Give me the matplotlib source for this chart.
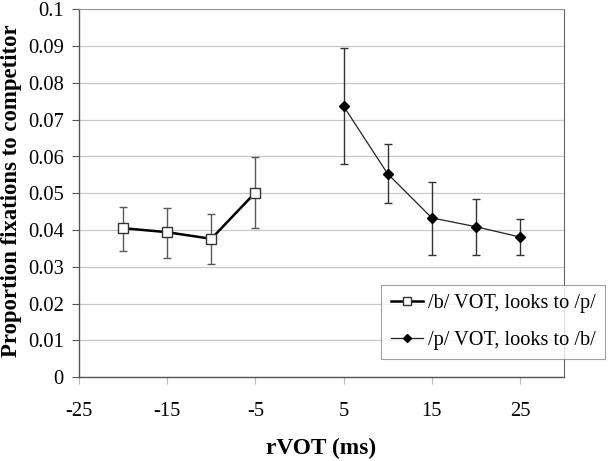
import matplotlib
matplotlib.use("Agg")
import matplotlib.pyplot as plt

# Data
b_x = [-20, -15, -10, -5]
b_y = [0.0405, 0.0394, 0.0376, 0.0502]
b_lo = [0.0344, 0.0325, 0.0307, 0.0406]
b_hi = [0.0463, 0.0459, 0.0444, 0.0598]

p_x = [5, 10, 15, 20, 25]
p_y = [0.0737, 0.0553, 0.0433, 0.0409, 0.0381]
p_lo = [0.0579, 0.0473, 0.0331, 0.0331, 0.0331]
p_hi = [0.0894, 0.0633, 0.0530, 0.0484, 0.0430]

x_ticks = [-25, -15, -5, 5, 15, 25]
y_ticks = [0, 0.01, 0.02, 0.03, 0.04, 0.05, 0.06, 0.07, 0.08, 0.09, 0.1]
y_ticklabels = ["0", "0.01", "0.02", "0.03", "0.04", "0.05", "0.06", "0.07", "0.08", "0.09", "0.1"]

plt.rcParams['font.family'] = ['Liberation Serif', 'DejaVu Serif']

fig = plt.figure(figsize=(6.1, 4.61), dpi=100)
ax = fig.add_axes([79/610, 1 - 377/461, (564-79)/610, (377-9.5)/461])

err_b = [[y - l for y, l in zip(b_y, b_lo)], [h - y for y, h in zip(b_y, b_hi)]]
err_p = [[y - l for y, l in zip(p_y, p_lo)], [h - y for y, h in zip(p_y, p_hi)]]

ax.errorbar(b_x, b_y, yerr=err_b, fmt='none', ecolor='#5a5a5a', elinewidth=1.0,
            capsize=2.7, capthick=1.0, zorder=3)
ax.errorbar(p_x, p_y, yerr=err_p, fmt='none', ecolor='#333333', elinewidth=1.0,
            capsize=2.7, capthick=1.0, zorder=3)
ax.plot(b_x, b_y, color='black', lw=1.8, marker='s', markersize=7.5,
        markerfacecolor='white', markeredgecolor='#333333', markeredgewidth=1.0,
        label='/b/ VOT, looks to /p/', zorder=4)
ax.plot(p_x, p_y, color='#222222', lw=0.9, marker='D', markersize=5,
        markerfacecolor='black', markeredgecolor='black',
        label='/p/ VOT, looks to /b/', zorder=4)

ax.set_xlim(-25, 30)
ax.set_ylim(0, 0.1)
ax.set_xticks(x_ticks)
ax.set_xticklabels([str(v) for v in x_ticks])
ax.set_yticks(y_ticks)
ax.set_yticklabels(y_ticklabels)
ax.yaxis.grid(True, color='#c8c8c8', lw=0.9)
ax.set_axisbelow(True)

for s in ['left', 'bottom']:
    ax.spines[s].set_color('#555555')
    ax.spines[s].set_linewidth(1.0)
ax.spines['right'].set_color('#666666')
ax.spines['top'].set_color('#999999')

ax.tick_params(axis='y', direction='out', length=5, color='#555555', labelsize=14.8, pad=6)
ax.tick_params(axis='x', direction='out', length=5, color='#bbbbbb', labelsize=14.8, pad=13)

ax.set_xlabel('rVOT (ms)', fontsize=16.8, fontweight='bold', labelpad=12)
ax.set_ylabel('Proportion fixations to competitor', fontsize=16.4, fontweight='bold')
ax.yaxis.set_label_coords(-0.117, 0.506)

leg = ax.legend(loc='lower right', bbox_to_anchor=(605/610, 1 - 359/461),
                bbox_transform=fig.transFigure, fontsize=14.6, frameon=True,
                fancybox=False, edgecolor='#888888', handlelength=1.6,
                borderpad=0.45, labelspacing=0.85, handletextpad=0.25,
                borderaxespad=0, markerscale=0.85)
leg.get_frame().set_linewidth(0.8)

fig.savefig('out.png', dpi=100)
